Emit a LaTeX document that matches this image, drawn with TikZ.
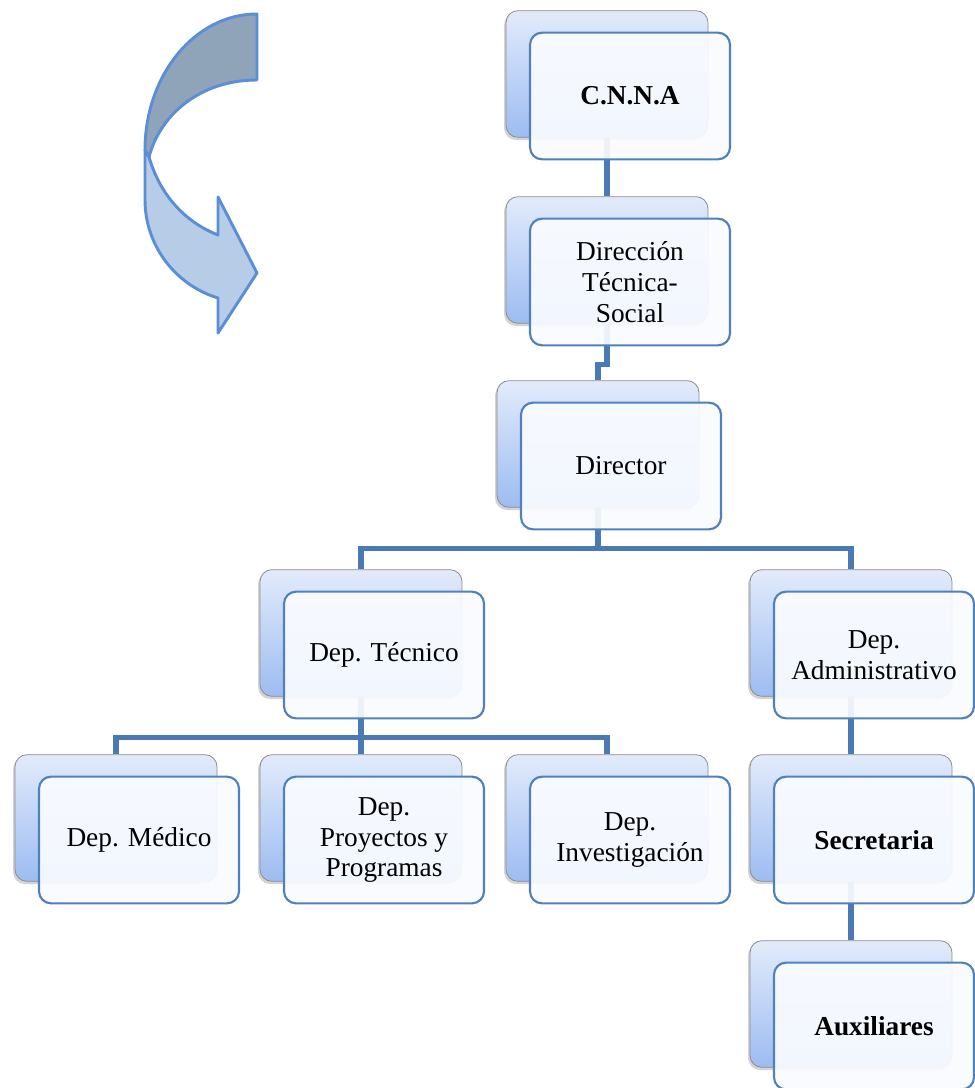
\documentclass[tikz,border=0pt]{standalone}
\usepackage{fontspec}
\setmainfont{Liberation Serif}
\usepackage{tikz}
\usetikzlibrary{shadows}
\definecolor{frontline}{HTML}{4F81BD}
\definecolor{frontfill}{HTML}{F9FBFF}
\definecolor{linkcol}{HTML}{4A7AB4}
\definecolor{backtop}{HTML}{E2EBFB}
\definecolor{backbot}{HTML}{9DBCF2}
\definecolor{arrowline}{HTML}{5A8ED6}
\definecolor{arrowdark}{HTML}{8FA3B9}
\definecolor{arrowlight}{HTML}{B7CCE6}
\tikzset{
  backbox/.style={draw=gray!90, line width=0.6pt, rounded corners=9pt, top color=backtop, bottom color=backbot,
    minimum width=151.5pt, minimum height=95pt, inner sep=0pt,
    drop shadow={shadow xshift=-1.5pt, shadow yshift=-2pt, opacity=0.35}},
  frontbox/.style={draw=frontline, line width=1.6pt, rounded corners=9pt, fill=frontfill, fill opacity=0.93,
    text opacity=1, minimum width=150pt, minimum height=95pt, inner sep=0pt, align=center,
    font=\fontsize{20.5}{23}\selectfont},
  link/.style={draw=linkcol, line width=3.8pt}
}
\begin{document}
\begin{tikzpicture}[x=0.75pt, y=-0.75pt]
            \useasboundingbox (0,0) rectangle (974,1088);
            % curved arrow
            \draw[arrowline, line width=2.2pt, fill=arrowlight, line join=round] (149,157) .. controls (160,195) and (185,222) .. (218,235) -- (218,197) -- (257,273) -- (218,333) -- (218,298) .. controls (175,285) and (145,245) .. (145,200) -- (145,150) -- cycle;
            \draw[arrowline, line width=2.2pt, fill=arrowdark, line join=round] (257,14) .. controls (195,14) and (145,75) .. (145,150) -- (149,157) .. controls (160,115) and (200,80) .. (257,80) -- cycle;
            % back boxes
            \foreach \n/\x/\y in {cnna/607/74, dir/607/260, director/598/444, tecnico/361/633, admin/851/633,
                                  medico/116/818, proyectos/361/818, invest/607/818, secre/851/818, aux/851/1004}
              \node[backbox] (\n) at (\x,\y) {};
            % links
            \draw[link] (cnna.south) -- (dir.north);
            \draw[link] (dir.south) -- ++(0,41) -| (director.north);
            \draw[link] (director.south) -- ++(0,41) -| (tecnico.north);
            \draw[link] (director.south) -- ++(0,41) -| (admin.north);
            \draw[link] (tecnico.south) -- ++(0,41) -| (medico.north);
            \draw[link] (tecnico.south) -- (proyectos.north);
            \draw[link] (tecnico.south) -- ++(0,41) -| (invest.north);
            \draw[link] (admin.south) -- (secre.north);
            \draw[link] (secre.south) -- (aux.north);
            % front boxes
            \foreach \n/\t in {cnna/\textbf{C.N.N.A}, dir/{Dirección\\Técnica-\\Social}, director/Director,
                               tecnico/Dep. Técnico, admin/{Dep.\\Administrativo}, medico/Dep. Médico,
                               proyectos/{Dep.\\Proyectos y\\Programas}, invest/{Dep.\\Investigación},
                               secre/\textbf{Secretaria}, aux/\textbf{Auxiliares}}
              \node[frontbox] (\n-f) at ([shift={(23,22)}]\n.center) {\t};
        \end{tikzpicture}
\end{document}
